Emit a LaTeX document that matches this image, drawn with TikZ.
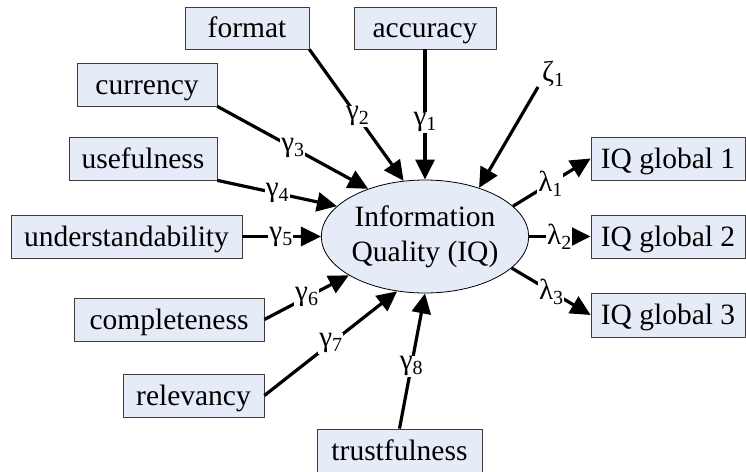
\documentclass[tikz,border=0pt]{standalone}
\usepackage{fontspec}
\setmainfont{Liberation Serif}
\usetikzlibrary{arrows.meta,shapes.geometric}
\definecolor{boxfill}{RGB}{229,235,247}
\definecolor{boxline}{RGB}{60,60,60}
\newcommand\grk[2]{{\fontsize{29}{29}\selectfont #1}\raisebox{-5pt}{\fontsize{20}{20}\selectfont #2}}
\tikzset{
  obsbox/.style={draw=boxline, line width=0.8pt, fill=boxfill, rectangle, inner sep=0pt,
    text height=20pt, text depth=1pt,
    font=\fontsize{29.5}{32}\selectfont},
  latent/.style={draw=black, line width=0.8pt, fill=boxfill, ellipse, inner sep=0pt,
    minimum width=198pt, minimum height=113pt, align=center,
    font=\fontsize{29.5}{35}\selectfont},
  conn/.style={line width=3.2pt, -{Triangle[length=20pt,width=19pt]}},
  lab/.style={fill=white, inner sep=1pt}
}
\begin{document}
\begin{tikzpicture}[x=1pt,y=-1pt]
\useasboundingbox (0,0) rectangle (746,471);
\begin{scope}
\clip (0,0) rectangle (746,471);
% observed boxes
\node[obsbox, minimum width=124pt, minimum height=42pt] (format) at (247,28) {format};
\node[obsbox, minimum width=142pt, minimum height=42pt] (acc) at (425,28) {accuracy};
\node[obsbox, minimum width=140pt, minimum height=43pt] (curr) at (147,84.5) {currency};
\node[obsbox, minimum width=148pt, minimum height=43pt] (use) at (143,158.5) {usefulness};
\node[obsbox, minimum width=231pt, minimum height=43pt] (und) at (126.5,236.5) {understandability};
\node[obsbox, minimum width=190pt, minimum height=43pt] (comp) at (169,319.5) {completeness};
\node[obsbox, minimum width=141pt, minimum height=43pt] (rel) at (193.5,395.5) {relevancy};
\node[obsbox, minimum width=165pt, minimum height=43pt] (trust) at (399.5,450.5) {trustfulness};
\node[obsbox, minimum width=154pt, minimum height=43pt] (g1) at (668,158.5) {IQ global 1};
\node[obsbox, minimum width=154pt, minimum height=43pt] (g2) at (668,236.5) {IQ global 2};
\node[obsbox, minimum width=154pt, minimum height=44pt] (g3) at (668,315) {IQ global 3};
% latent
\node[latent] (iq) at (425,236.5) {Information\\Quality (IQ)};
% disturbance
\node[inner sep=0pt] (zeta) at (553,74) {\grk{ζ}{1}};
\coordinate (zs) at (538,87);
% connectors
\draw[conn] (acc.south) -- node[lab, pos=0.56] {\grk{γ}{1}} (iq.north);
\draw[conn] (format.south east) -- node[lab, pos=0.51] {\grk{γ}{2}} (iq.111.3);
\draw[conn] (curr.south east) -- node[lab, pos=0.5] {\grk{γ}{3}} (iq.140.8);
\draw[conn] (use.south east) -- node[lab, pos=0.5] {\grk{γ}{4}} (iq.161.3);
\draw[conn] (und.east) -- node[lab, pos=0.49] {\grk{γ}{5}} (iq.west);
\draw[conn] (comp.east) -- node[lab, pos=0.5] {\grk{γ}{6}} (iq.207.8);
\draw[conn] (rel.east) -- node[lab, pos=0.5] {\grk{γ}{7}} (iq.243.6);
\draw[conn] (trust.north) -- node[lab, pos=0.46] {\grk{γ}{8}} (iq.south);
\draw[conn] (zs) -- (iq.42.5);
\draw[conn] (iq.19.6) -- node[lab, pos=0.48] {\grk{λ}{1}} (g1.west);
\draw[conn] (iq.east) -- node[lab, pos=0.49] {\grk{λ}{2}} (g2.west);
\draw[conn] (iq.-20.2) -- node[lab, pos=0.5] {\grk{λ}{3}} (g3.west);
\end{scope}
\end{tikzpicture}
\end{document}
